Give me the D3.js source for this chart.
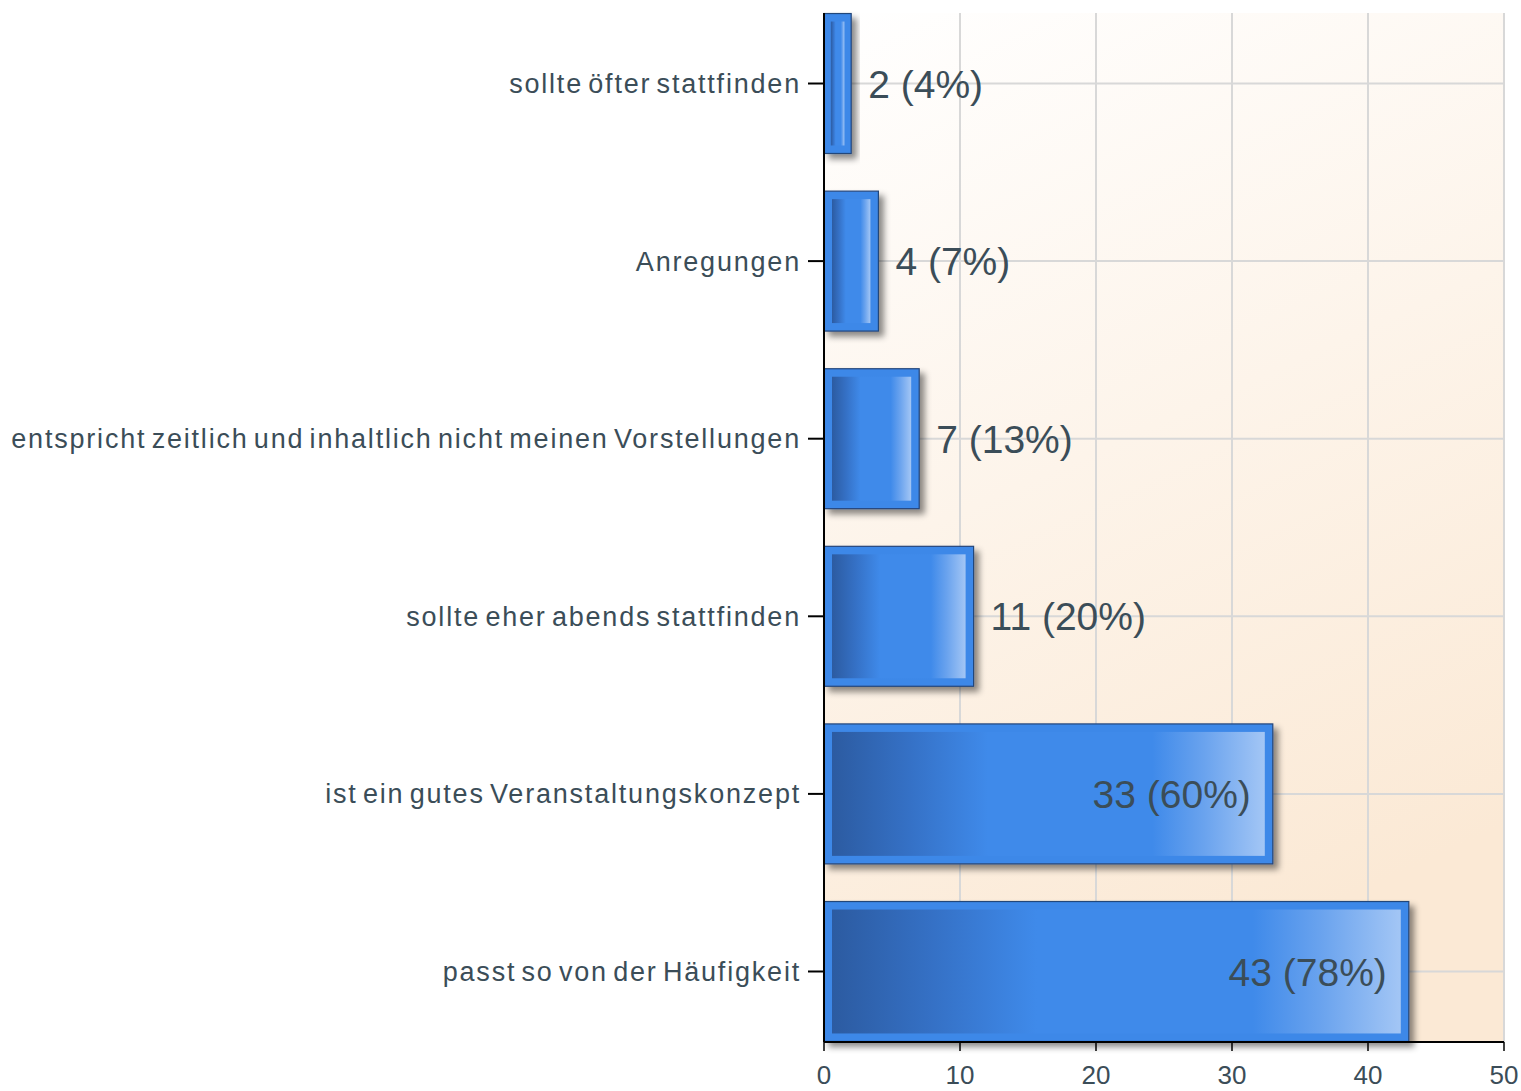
<!DOCTYPE html>
<html><head><meta charset="utf-8">
<script src="https://cdn.jsdelivr.net/npm/d3@7"></script>
<style>body{margin:0;background:#fff}svg{display:block}</style>
</head><body>
<script>
const categories = ["sollte öfter stattfinden","Anregungen","entspricht zeitlich und inhaltlich nicht meinen Vorstellungen","sollte eher abends stattfinden","ist ein gutes Veranstaltungskonzept","passt so von der Häufigkeit"];
const counts = [2,4,7,11,33,43];
const percents = [4,7,13,20,60,78];
const xTicks = [0,10,20,30,40,50];

const W=1521,H=1091;
const L=824,R=1504,T=13,B=1042;
const svg=d3.select("body").append("svg").attr("width",W).attr("height",H);
const defs=svg.append("defs");
const bg=defs.append("linearGradient").attr("id","bg").attr("x1","0").attr("y1","0").attr("x2","0.3").attr("y2","1");
bg.append("stop").attr("offset","0").attr("stop-color","#ffffff");
bg.append("stop").attr("offset","1").attr("stop-color","#fbe9d5");
const bar=defs.append("linearGradient").attr("id","bar").attr("x1","0").attr("x2","1").attr("y1","0").attr("y2","0");
[[0,"#2c5ba1"],[0.18,"#3571c6"],[0.36,"#3f8aea"],[0.74,"#3f8aea"],[0.86,"#6aa3ee"],[1,"#a3c6f5"]].forEach(s=>bar.append("stop").attr("offset",s[0]).attr("stop-color",s[1]));
const f=defs.append("filter").attr("id","sh").attr("x","-20%").attr("y","-20%").attr("width","150%").attr("height","150%");
f.append("feDropShadow").attr("dx",5).attr("dy",5).attr("stdDeviation",3).attr("flood-color","#000").attr("flood-opacity",0.45);

const x=d3.scaleLinear().domain([0,50]).range([L,R]);
const y=d3.scaleBand().domain(categories).range([T,B]).paddingInner(0.212).paddingOuter(0.003);

svg.append("rect").attr("x",L).attr("y",T).attr("width",R-L).attr("height",B-T).attr("fill","url(#bg)");
svg.append("g").selectAll("line").data(xTicks.slice(1)).join("line")
 .attr("x1",d=>x(d)).attr("x2",d=>x(d)).attr("y1",T).attr("y2",B)
 .attr("stroke","#d8d8d8").attr("stroke-width",2);
svg.append("g").selectAll("line").data(categories).join("line")
 .attr("x1",L).attr("x2",R).attr("y1",d=>y(d)+y.bandwidth()/2).attr("y2",d=>y(d)+y.bandwidth()/2)
 .attr("stroke","#d8d8d8").attr("stroke-width",2);

const g=svg.append("g").selectAll("g").data(categories).join("g");
g.append("rect").attr("x",L).attr("y",d=>y(d)).attr("width",(d,i)=>x(counts[i])-L).attr("height",y.bandwidth())
 .attr("fill","#3d88e8").attr("stroke","#24467a").attr("stroke-width",1.2).attr("filter","url(#sh)");
g.append("rect").attr("x",(d,i)=>L+Math.min(8,(x(counts[i])-L)*0.25))
 .attr("y",d=>y(d)+8)
 .attr("width",(d,i)=>{const w=x(counts[i])-L;const ins=Math.min(8,w*0.25);return w-2*ins;})
 .attr("height",y.bandwidth()-16).attr("fill","url(#bar)");

g.append("text").attr("font-family","Liberation Sans, Arial, sans-serif").attr("font-size",39).attr("fill","#3b4d58")
 .attr("y",d=>y(d)+y.bandwidth()/2).attr("dy","0.36em")
 .text((d,i)=>`${counts[i]} (${percents[i]}%)`)
 .each(function(d,i){
   const tw=this.getComputedTextLength();const bw=x(counts[i])-L;
   const t=d3.select(this);
   if(bw>tw+40){t.attr("x",x(counts[i])-22).attr("text-anchor","end");}
   else{t.attr("x",x(counts[i])+17).attr("text-anchor","start");}
 });

svg.append("line").attr("x1",L).attr("x2",L).attr("y1",T).attr("y2",B).attr("stroke","#000").attr("stroke-width",2);
svg.append("line").attr("x1",L).attr("x2",R).attr("y1",B).attr("y2",B).attr("stroke","#000").attr("stroke-width",2);
svg.append("g").selectAll("line").data(xTicks).join("line").attr("x1",d=>x(d)).attr("x2",d=>x(d)).attr("y1",B).attr("y2",B+9).attr("stroke","#000").attr("stroke-width",1.5);
svg.append("g").selectAll("text").data(xTicks).join("text").attr("x",d=>x(d)).attr("y",1084).attr("text-anchor","middle")
 .attr("font-family","Liberation Sans, Arial, sans-serif").attr("font-size",26).attr("fill","#3b4d58").text(d=>d);
svg.append("g").selectAll("line").data(categories).join("line").attr("x1",L-16).attr("x2",L).attr("y1",d=>y(d)+y.bandwidth()/2).attr("y2",d=>y(d)+y.bandwidth()/2).attr("stroke","#000").attr("stroke-width",2);
svg.append("g").selectAll("text").data(categories).join("text").attr("x",L-23).attr("y",d=>y(d)+y.bandwidth()/2).attr("dy","0.35em")
 .attr("text-anchor","end").attr("font-family","Liberation Sans, Arial, sans-serif").attr("font-size",27)
 .attr("letter-spacing","1.8px").attr("word-spacing","-4px").attr("fill","#3b4d58").text(d=>d);
</script>
</body></html>
